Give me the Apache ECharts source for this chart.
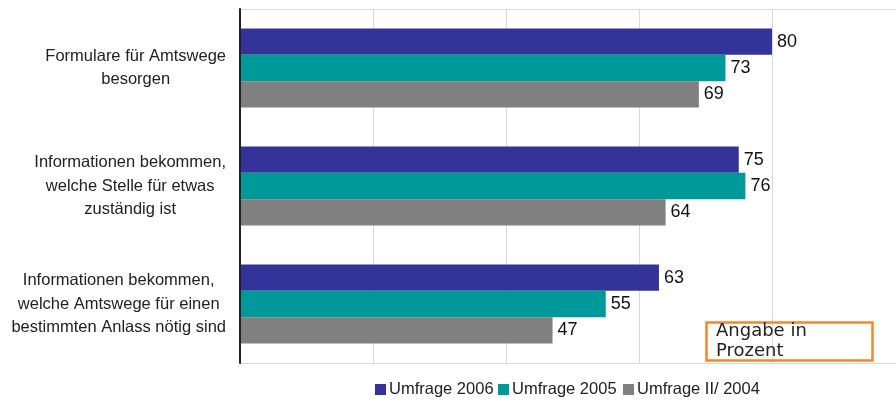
<!DOCTYPE html>
<html><head><meta charset="utf-8">
<script src="https://cdn.jsdelivr.net/npm/echarts@6/dist/echarts.min.js"></script>
<style>html,body{margin:0;padding:0;background:#fff;overflow:hidden}#c{width:905px;height:403px}</style>
</head><body><div id="c"></div>
<script>
const categories = [
  'Formulare für Amtswege\nbesorgen',
  'Informationen bekommen,\nwelche Stelle für etwas\nzuständig ist',
  'Informationen bekommen,\nwelche Amtswege für einen\nbestimmten Anlass nötig sind'
];
const seriesNames = ['Umfrage 2006', 'Umfrage 2005', 'Umfrage II/ 2004'];
const values2006 = [80, 75, 63];
const values2005 = [73, 76, 55];
const values2004 = [69, 64, 47];
const colors = ['#333399', '#009999', '#808080'];
const noteText = 'Angabe in\nProzent';

const chart = echarts.init(document.getElementById('c'), null, {renderer: 'canvas'});
const sans = '"Liberation Sans", Arial, sans-serif';
function mk(name, data, color) {
  return {
    name, type: 'bar', data,
    itemStyle: {color},
    barGap: '0%', barCategoryGap: '33%',
    label: {show: true, position: 'right', distance: 5, color: '#111',
      fontFamily: sans, fontSize: 18},
    emphasis: {disabled: true}
  };
}
const legendLefts = [375, 498, 623];
chart.setOption({
  animation: false,
  grid: {left: 240, top: 9, right: 0, bottom: 40, show: false},
  legend: seriesNames.map((n, i) => ({
    data: [n], left: legendLefts[i], top: 381, icon: 'rect',
    itemWidth: 11, itemHeight: 11, padding: 0,
    textStyle: {fontFamily: sans, fontSize: 16.5, color: '#222', padding: [0, 0, 0, -2]}
  })),
  xAxis: [{
    type: 'value', min: 0, max: 100, interval: 20, position: 'bottom',
    axisLabel: {show: false}, axisTick: {show: false},
    axisLine: {show: true, lineStyle: {color: '#d9d9d9', width: 1}},
    splitLine: {lineStyle: {color: '#d9d9d9', width: 1}}
  }, {
    type: 'value', min: 0, max: 100, interval: 20, position: 'top',
    axisLabel: {show: false}, axisTick: {show: false},
    axisLine: {show: true, lineStyle: {color: '#d9d9d9', width: 1}},
    splitLine: {show: false}
  }],
  yAxis: {
    type: 'category', data: categories, inverse: true,
    axisLine: {lineStyle: {color: '#222', width: 2}},
    axisTick: {length: 5, lineStyle: {color: '#222', width: 1.5}},
    axisLabel: {
      margin: 14, color: '#222',
      formatter: v => v.split('\n').map(l => '{c|' + l + '}').join('\n'),
      rich: {c: {align: 'center', fontFamily: sans,
        fontSize: 16.5, lineHeight: 23.5, color: '#222'}}
    },
    z: 5
  },
  series: [mk(seriesNames[0], values2006, colors[0]),
           mk(seriesNames[1], values2005, colors[1]),
           mk(seriesNames[2], values2004, colors[2])],
  graphic: [
    {type: 'rect', left: 704, top: 320, shape: {width: 166, height: 38},
      style: {fill: 'none', stroke: '#f7852d', lineWidth: 2.5}, z: 100},
    {type: 'text', left: 716, top: 321, z: 101,
      style: {text: noteText, font: '18px "DejaVu Sans", sans-serif', fill: '#222', lineHeight: 20}}
  ]
});
</script></body></html>
